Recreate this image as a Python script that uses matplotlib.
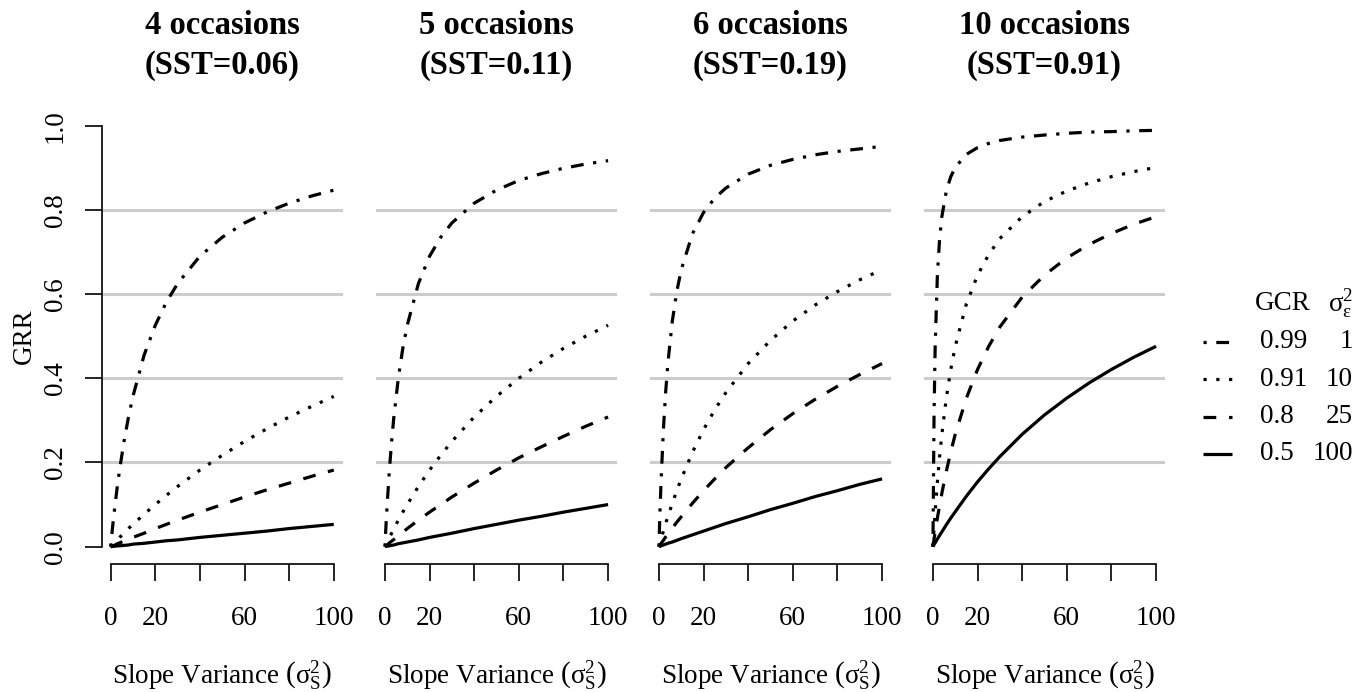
import matplotlib
matplotlib.use("Agg")
import matplotlib.pyplot as plt

plt.rcParams['font.family'] = ['Liberation Serif', 'DejaVu Serif']
plt.rcParams['mathtext.fontset'] = 'custom'
plt.rcParams['mathtext.rm'] = 'Liberation Serif'
plt.rcParams['mathtext.it'] = 'Liberation Serif:italic'
plt.rcParams['mathtext.bf'] = 'Liberation Serif:bold'

# slope variance grid (x axis)
slope_var = [0, 0.5, 1, 2, 3, 4, 6, 8, 10, 15, 20, 25, 30, 40, 50, 60, 70, 80, 90, 100]

occasions = [4, 5, 6, 10]
sst = ['0.06', '0.11', '0.19', '0.91']
gcr = ['0.99', '0.91', '0.8', '0.5']
err_var = ['1', '10', '25', '100']

# GRR curves per panel, ordered by error variance 1, 10, 25, 100
grr_occ4 = [
    [0, 0.027, 0.053, 0.100, 0.143, 0.182, 0.250, 0.308, 0.357, 0.455, 0.526, 0.581, 0.625, 0.690, 0.735, 0.769, 0.795, 0.816, 0.833, 0.847],
    [0, 0.003, 0.006, 0.011, 0.016, 0.022, 0.032, 0.043, 0.053, 0.077, 0.100, 0.122, 0.143, 0.182, 0.217, 0.250, 0.280, 0.308, 0.333, 0.357],
    [0, 0.001, 0.002, 0.004, 0.007, 0.009, 0.013, 0.017, 0.022, 0.032, 0.043, 0.053, 0.063, 0.082, 0.100, 0.118, 0.135, 0.151, 0.167, 0.182],
    [0, 0.000, 0.001, 0.001, 0.002, 0.002, 0.003, 0.004, 0.006, 0.008, 0.011, 0.014, 0.016, 0.022, 0.027, 0.032, 0.037, 0.043, 0.048, 0.053],
]
grr_occ5 = [
    [0, 0.053, 0.100, 0.182, 0.250, 0.308, 0.400, 0.471, 0.526, 0.625, 0.690, 0.735, 0.769, 0.816, 0.847, 0.870, 0.886, 0.899, 0.909, 0.917],
    [0, 0.006, 0.011, 0.022, 0.032, 0.043, 0.063, 0.082, 0.100, 0.143, 0.182, 0.217, 0.250, 0.308, 0.357, 0.400, 0.438, 0.471, 0.500, 0.526],
    [0, 0.002, 0.004, 0.009, 0.013, 0.017, 0.026, 0.034, 0.043, 0.063, 0.082, 0.100, 0.118, 0.151, 0.182, 0.211, 0.237, 0.262, 0.286, 0.308],
    [0, 0.001, 0.001, 0.002, 0.003, 0.004, 0.007, 0.009, 0.011, 0.016, 0.022, 0.027, 0.032, 0.043, 0.053, 0.063, 0.072, 0.082, 0.091, 0.100],
]
grr_occ6 = [
    [0, 0.088, 0.161, 0.278, 0.366, 0.435, 0.536, 0.606, 0.658, 0.743, 0.794, 0.828, 0.852, 0.885, 0.906, 0.920, 0.931, 0.939, 0.945, 0.951],
    [0, 0.010, 0.019, 0.037, 0.055, 0.071, 0.103, 0.133, 0.161, 0.224, 0.278, 0.325, 0.366, 0.435, 0.490, 0.536, 0.574, 0.606, 0.634, 0.658],
    [0, 0.004, 0.008, 0.015, 0.023, 0.030, 0.044, 0.058, 0.071, 0.103, 0.133, 0.161, 0.188, 0.235, 0.278, 0.316, 0.350, 0.381, 0.409, 0.435],
    [0, 0.001, 0.002, 0.004, 0.006, 0.008, 0.011, 0.015, 0.019, 0.028, 0.037, 0.046, 0.055, 0.071, 0.088, 0.103, 0.119, 0.133, 0.148, 0.161],
]
grr_occ10 = [
    [0, 0.313, 0.476, 0.645, 0.732, 0.784, 0.845, 0.879, 0.901, 0.932, 0.948, 0.958, 0.965, 0.973, 0.978, 0.982, 0.985, 0.986, 0.988, 0.989],
    [0, 0.043, 0.083, 0.154, 0.214, 0.267, 0.353, 0.421, 0.476, 0.577, 0.645, 0.694, 0.732, 0.784, 0.820, 0.845, 0.864, 0.879, 0.891, 0.901],
    [0, 0.018, 0.035, 0.068, 0.098, 0.127, 0.179, 0.225, 0.267, 0.353, 0.421, 0.476, 0.522, 0.593, 0.645, 0.686, 0.718, 0.744, 0.766, 0.784],
    [0, 0.005, 0.009, 0.018, 0.027, 0.035, 0.052, 0.068, 0.083, 0.120, 0.154, 0.185, 0.214, 0.267, 0.313, 0.353, 0.389, 0.421, 0.450, 0.476],
]
panels = [grr_occ4, grr_occ5, grr_occ6, grr_occ10]

# dash patterns (in line widths): dot-dash, dotted, dashed, solid
dash_styles = [(1, 3, 4, 3), (1, 3), (4, 4), None]
lw = 2.3
fs = 19.5

W, H = 1371, 692
fig = plt.figure(figsize=(W / 100, H / 100), dpi=100)

lefts = [101.7, 376, 650, 924]
pw = 241
top_px, bot_px = 108.9, 563.5

for i, (left, curves) in enumerate(zip(lefts, panels)):
    ax = fig.add_axes([left / W, (H - bot_px) / H, pw / W, (bot_px - top_px) / H])
    ax.set_xlim(-4, 104)
    ax.set_ylim(-0.04, 1.04)
    for s in ['top', 'right']:
        ax.spines[s].set_visible(False)
    for h in [0.2, 0.4, 0.6, 0.8]:
        ax.axhline(h, color='#cccccc', lw=2.2, zorder=0)
    for vals, dash in zip(curves, dash_styles):
        line, = ax.plot(slope_var, vals, color='black', lw=lw, solid_capstyle='butt')
        if dash is not None:
            line.set_dashes(dash)
    ax.spines['bottom'].set_bounds(0, 100)
    ax.spines['bottom'].set_linewidth(1.2)
    ax.set_xticks([0, 20, 40, 60, 80, 100], labels=['0', '20', '', '60', '', '100'])
    ax.tick_params(axis='x', length=12.5, width=1.2, pad=18, labelsize=fs)
    if i == 0:
        ax.spines['left'].set_bounds(0, 1)
        ax.spines['left'].set_linewidth(1.2)
        ax.set_yticks([0, 0.2, 0.4, 0.6, 0.8, 1.0],
                      labels=['0.0', '0.2', '0.4', '0.6', '0.8', '1.0'])
        ax.tick_params(axis='y', length=12.5, width=1.2, pad=12, labelsize=fs)
        for lab in ax.get_yticklabels():
            lab.set_rotation(90)
            lab.set_va('center')
        ax.set_ylabel('GRR', fontsize=fs, labelpad=4)
    else:
        ax.spines['left'].set_visible(False)
        ax.set_yticks([])
    ax.set_xlabel(r'Slope Variance $\left(\mathrm{σ}^2_\mathrm{S}\right)$', fontsize=fs, labelpad=21)
    ax.set_title(f'{occasions[i]} occasions\n(SST={sst[i]})', fontsize=23.5,
                 fontweight='bold', linespacing=1.35, pad=25.5)

# legend drawn on an overlay in pixel units
leg = fig.add_axes([0, 0, 1, 1])
leg.set_xlim(0, W)
leg.set_ylim(H, 0)
leg.axis('off')
leg.text(1255, 303, 'GCR', fontsize=fs, va='center', ha='left')
leg.text(1353, 303, r'$\mathrm{σ}^2_\mathrm{ε}$', fontsize=fs, va='center', ha='right')
row_y = [341.7, 379, 416.7, 454]
for y, dash, g, e in zip(row_y, dash_styles, gcr, err_var):
    line, = leg.plot([1203, 1232], [y, y], color='black', lw=lw, solid_capstyle='butt')
    if dash is not None:
        line.set_dashes(dash)
    leg.text(1260, y, g, fontsize=fs, va='center', ha='left')
    leg.text(1353, y, e, fontsize=fs, va='center', ha='right')

fig.savefig('out.png', dpi=100)
